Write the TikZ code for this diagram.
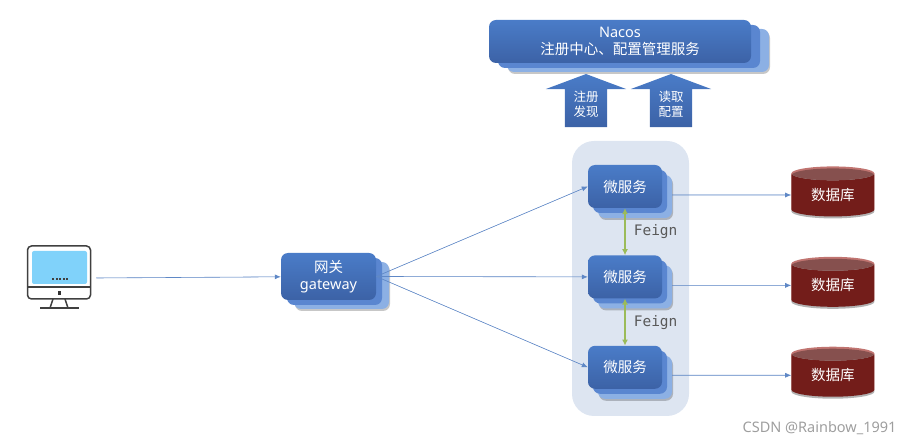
\documentclass[tikz,border=0pt]{standalone}
\usepackage{fontspec}
\setmainfont{Noto Sans}
\newfontfamily\cjk{Noto Sans CJK SC}
\setmonofont{DejaVu Sans Mono}
\usetikzlibrary{shapes.geometric,shapes.arrows,arrows.meta,positioning,shadows}

\definecolor{boxtop}{HTML}{4A7CC8}
\definecolor{boxbot}{HTML}{3C62A6}
\definecolor{boxmid}{HTML}{5A86D0}
\definecolor{boxback}{HTML}{8CB0E4}
\definecolor{paneblue}{HTML}{DDE5F1}
\definecolor{linkblue}{HTML}{5F88C6}
\definecolor{feigngreen}{HTML}{9BBB59}
\definecolor{dbred}{HTML}{A52A26}
\definecolor{dbcap}{HTML}{C07470}
\definecolor{screenblue}{HTML}{80D2FA}

\begin{document}
\begin{tikzpicture}[%
	x=1pt, y=-1pt,
	every node/.style={font=\fontsize{14.5}{17.5}\selectfont, align=center},
	node distance=47pt and 129pt,
	]
	% ------------------------------------------------- 
	% Box styles
	\tikzset{
		base/.style={text=white, rounded corners=7pt, top color=boxtop, bottom color=boxbot},
		% two copies behind each box, offsets given by the two arguments
		stacked/.style n args={4}{
			general shadow={fill=black, opacity=.22, shadow xshift=#3+1pt, shadow yshift=-#4-2pt},
			general shadow={fill=boxback, shadow xshift=#3, shadow yshift=-#4},
			general shadow={fill=boxmid, shadow xshift=#1, shadow yshift=-#2}},
		service/.style={base, stacked={5pt}{5pt}{10pt}{10pt}, minimum width=74pt, minimum height=43pt},
		upper/.style={base, stacked={9pt}{5pt}{18pt}{9pt}, minimum width=262pt, minimum height=43pt},
		gate/.style={base, stacked={6pt}{5pt}{13pt}{9pt}, minimum width=95pt, minimum height=47pt},
		up/.style={single arrow, shape border rotate=90, text=white, top color=boxtop, bottom color=boxbot,
			font=\fontsize{12.5}{15}\selectfont, inner sep=1pt, text width=40pt,
			minimum height=53pt, minimum width=80pt, single arrow head extend=19pt,
			single arrow tip angle=139, single arrow head indent=0pt},
		store/.style={cylinder, shape border rotate=90, aspect=.32, text=white, cylinder uses custom fill,
			cylinder body fill=dbred, cylinder end fill=dbcap, minimum width=83pt, minimum height=50pt,
			inner sep=0pt, drop shadow={fill=black, opacity=.3, shadow xshift=0pt, shadow yshift=-2pt}},
		panel/.style={fill=paneblue, rounded corners=22pt, minimum width=117pt, minimum height=275pt},
		% -------------------------------------------------
		% Connector line styles
		link/.style={-{Latex[length=6pt,width=5pt]}, draw=linkblue, fill=linkblue, line width=.6pt},
		feign/.style={{Latex[length=6pt,width=6pt]}-{Latex[length=6pt,width=6pt]}, draw=feigngreen, line width=1.6pt},
		lbl/.style={font=\ttfamily\fontsize{14.5}{17}\selectfont, text=black!65, inner sep=8pt},
		ink/.style={draw=black!75, line width=1.5pt},
	}

	\useasboundingbox (0,0) rectangle (914,446);

	\node[panel] (pane) at (630.5,278.5) {};

	\node[upper] (nacos) at (620,41.5) {Nacos\\{\cjk 注册中心、配置管理服务}};
	\node[up] (reg) at (586,104.5) {{\cjk 注册}\\{\cjk 发现}};
	\node[up] (cfg) at (671,104.5) {{\cjk 读取}\\{\cjk 配置}};

	\node[service] (ms1) at (625,186.5) {\cjk 微服务};
	\node[service, below=of ms1] (ms2) {\cjk 微服务};
	\node[service, below=of ms2] (ms3) {\cjk 微服务};

	\node[store, right=of ms1, yshift=-8.5pt] (db1) {\cjk 数据库};
	\node[store, right=of ms2, yshift=-8.5pt] (db2) {\cjk 数据库};
	\node[store, right=of ms3, yshift=-8pt] (db3) {\cjk 数据库};

	\node[gate] (gw) at (328.5,276.5) {{\cjk 网关}\\gateway};

	% the monitor
	\fill[screenblue, rounded corners=2pt] (32,251) rectangle (87,284);
	\node[ink, rounded corners=4pt, minimum width=63pt, minimum height=53pt] (pc) at (59,272.5) {};
	\draw[ink] (pc.west |- 0,287) -- (pc.east |- 0,287);
	\fill[black!80] (57.5,291) rectangle (61,295);
	\foreach \x in {53,56.5,60,63.5,67}
		\fill[black!75] (\x-1,278) rectangle (\x+1,280.5);
	\draw[ink] (53,299) -- (50,308) (65,299) -- (68,308);
	\draw[ink] (40,308) -- (79,308);
	\coordinate[right=5pt of pc, yshift=-5.5pt] (pcout);

	\draw[link] (pcout) -- (gw);
	\draw[link] (gw.east) -- (ms1.west);
	\draw[link] (gw.east) -- (ms2.west);
	\draw[link] (gw.east) -- (ms3.west);
	\draw[link] ([xshift=10pt]ms1.east |- db1) -- (db1);
	\draw[link] ([xshift=10pt]ms2.east |- db2) -- (db2);
	\draw[link] ([xshift=10pt]ms3.east |- db3) -- (db3);
	\draw[feign] (ms1) -- node[lbl, right] {Feign} (ms2);
	\draw[feign] (ms2) -- node[lbl, right] {Feign} (ms3);

	\node[text=black!38, font=\fontsize{14.5}{17}\selectfont, anchor=east] (mark) at (900,428) {CSDN @Rainbow\_1991};
\end{tikzpicture}
\end{document}
